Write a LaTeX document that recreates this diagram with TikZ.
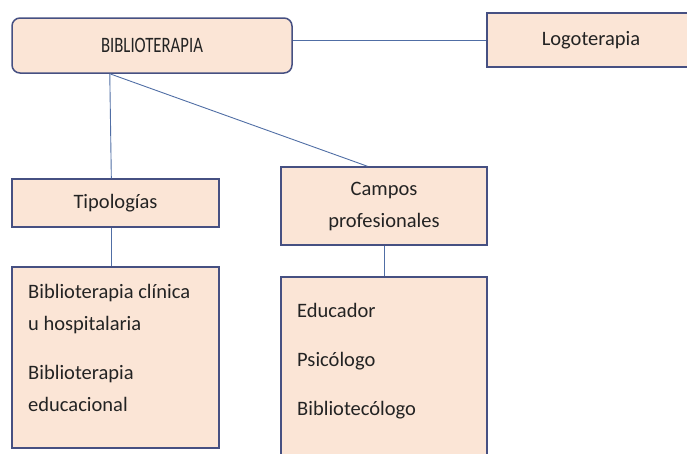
\documentclass[tikz,border=0pt]{standalone}
\usepackage{fontspec}
\setmainfont{Carlito}
\usetikzlibrary{calc}
\definecolor{boxfill}{RGB}{251,229,214}
\definecolor{boxline}{RGB}{70,80,130}
\definecolor{linkline}{RGB}{80,110,165}
\definecolor{inktext}{RGB}{35,35,35}
\tikzset{
    box/.style = {draw = boxline, fill = boxfill, line width = 1.5pt, inner sep = 0pt, text = inktext},
    link/.style = {draw = linkline, line width = 0.9pt},
    bodytext/.style = {font = \fontsize{20.5}{32}\selectfont, inner sep = 0pt, text = inktext}
}
\begin{document}
\begin{tikzpicture}[x = 1pt, y = -1pt]
                \useasboundingbox (0,0) rectangle (687,453);
                \node[box, rounded corners = 8pt, minimum width = 280pt, minimum height = 55pt,
                      font = \fontsize{22}{26}\selectfont] (biblio) at (152,45.5) {\scalebox{0.76}[1]{BIBLIOTERAPIA}};
                \node[box, minimum width = 208pt, minimum height = 54pt, bodytext] (logo) at (591,40) {Logoterapia};
                \node[box, minimum width = 207pt, minimum height = 48pt, bodytext] (tipo) at (115.5,203) {Tipologías};
                \node[box, minimum width = 206pt, minimum height = 78pt, bodytext, align = center] (campos) at (384,206) {Campos\\profesionales};
                \node[box, minimum width = 207pt, minimum height = 181pt] (tipolist) at (115.5,357.5) {};
                \node[box, minimum width = 206pt, minimum height = 200pt] (camplist) at (384,377) {};
                \node[bodytext, align = left, anchor = north west] (tipoitems) at (28,284)
                    {Biblioterapia clínica\\u hospitalaria\\[17pt]Biblioterapia\\educacional};
                \node[bodytext, align = left, anchor = north west] (campitems) at (297,303)
                    {Educador\\[17pt]Psicólogo\\[17pt]Bibliotecólogo};
                \coordinate (split) at ($(biblio.south west)!0.35!(biblio.south east)$);
                \draw[link] (biblio.east |- logo) -- (logo.west);
                \draw[link] (split) -- ($(tipo.north west)!0.48!(tipo.north east)$);
                \draw[link] (split) -- ($(campos.north west)!0.42!(campos.north east)$);
                \draw[link] ($(tipo.south west)!0.48!(tipo.south east)$) coordinate (t1) -- (t1 |- tipolist.north);
                \draw[link] (campos.south) -- (camplist.north);
            \end{tikzpicture}
\end{document}
